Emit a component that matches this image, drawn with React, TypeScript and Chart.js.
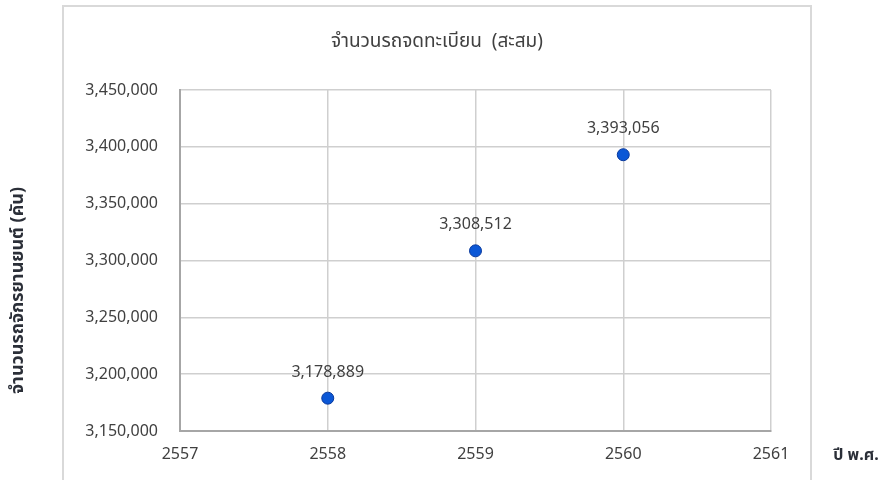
import React, { useEffect, useRef } from 'react';
import { Chart, registerables } from 'chart.js';

Chart.register(...registerables);

// Cumulative registered vehicles by Buddhist-era year
const years = [2558, 2559, 2560];
const registered = [3178889, 3308512, 3393056];

// Axis bounds and steps
const xBounds = [2557, 2561];
const xStep = 1;
const yBounds = [3150000, 3450000];
const yStep = 50000;

const chartTitle = 'จำนวนรถจดทะเบียน  (สะสม)';
const yAxisTitle = 'จำนวนรถจักรยานยนต์ (คัน)';
const xAxisTitle = 'ปี พ.ศ.';

const FONT = '"Noto Sans", "Noto Sans Thai", Tahoma, sans-serif';
const TEXT = '#404040';
const GRID = '#cfcfcf';
const AXIS = '#a6a6a6';

// Outer frame of the chart card
const FRAME = { left: 63, top: 6, width: 748 };

const fmt = (v: number) => v.toLocaleString('en-US');

// Frame, title, value labels and the two axis captions
const decorations = {
  id: 'decorations',
  beforeDraw(chart: any) {
    const { ctx } = chart;
    ctx.save();
    ctx.fillStyle = '#ffffff';
    ctx.fillRect(0, 0, chart.width, chart.height);
    ctx.strokeStyle = '#d9d9d9';
    ctx.lineWidth = 2;
    ctx.strokeRect(FRAME.left, FRAME.top, FRAME.width, chart.height + 20);

    ctx.fillStyle = TEXT;
    ctx.textAlign = 'center';
    ctx.textBaseline = 'middle';
    ctx.font = `19px ${FONT}`;
    ctx.fillText(chartTitle, FRAME.left + FRAME.width / 2, 42);
    ctx.restore();
  },
  afterDatasetsDraw(chart: any) {
    const { ctx } = chart;
    const meta = chart.getDatasetMeta(0);
    ctx.save();
    ctx.font = `16px ${FONT}`;
    ctx.fillStyle = TEXT;
    ctx.textAlign = 'center';
    ctx.textBaseline = 'middle';
    meta.data.forEach((pt: any, i: number) => {
      ctx.fillText(fmt(registered[i]), pt.x, pt.y - 26);
    });
    ctx.restore();
  },
  afterDraw(chart: any) {
    const { ctx, chartArea } = chart;
    ctx.save();
    ctx.fillStyle = '#2b2f38';
    ctx.textAlign = 'center';
    ctx.textBaseline = 'middle';
    ctx.font = `bold 18px ${FONT}`;
    ctx.translate(18, (chartArea.top + chartArea.bottom) / 2 + 30);
    ctx.rotate(-Math.PI / 2);
    ctx.fillText(yAxisTitle, 0, 0);
    ctx.restore();

    ctx.save();
    ctx.fillStyle = '#2b2f38';
    ctx.textAlign = 'center';
    ctx.textBaseline = 'middle';
    ctx.font = `bold 16px ${FONT}`;
    ctx.fillText(xAxisTitle, chartArea.right + 85, chartArea.bottom + 24);
    ctx.restore();
  },
};

export default function App() {
  const canvasRef = useRef<HTMLCanvasElement | null>(null);

  useEffect(() => {
    if (!canvasRef.current) return;
    const chart = new Chart(canvasRef.current, {
      type: 'scatter',
      data: {
        datasets: [
          {
            label: chartTitle,
            data: years.map((y, i) => ({ x: y, y: registered[i] })),
            backgroundColor: '#0b57d6',
            borderColor: '#0a3a9e',
            borderWidth: 1,
            pointRadius: 6,
          },
        ],
      },
      options: {
        responsive: false,
        animation: false,
        layout: { padding: { left: 0, right: 119, top: 90, bottom: 0 } },
        plugins: {
          legend: { display: false },
          tooltip: { enabled: false },
          title: { display: false },
        },
        scales: {
          x: {
            type: 'linear',
            min: xBounds[0],
            max: xBounds[1],
            afterFit: (s: any) => {
              s.height = 49;
            },
            ticks: {
              stepSize: xStep,
              padding: 14,
              color: TEXT,
              font: { family: FONT, size: 16 },
              callback: (v: any) => String(v),
            },
            grid: { color: GRID, lineWidth: 1.5, drawTicks: false },
            border: { color: AXIS, width: 2 },
          },
          y: {
            type: 'linear',
            min: yBounds[0],
            max: yBounds[1],
            afterFit: (s: any) => {
              s.width = 180;
            },
            ticks: {
              stepSize: yStep,
              padding: 22,
              color: TEXT,
              font: { family: FONT, size: 16 },
              callback: (v: any) => fmt(Number(v)),
            },
            grid: { color: GRID, lineWidth: 1.5, drawTicks: false },
            border: { color: AXIS, width: 2 },
          },
        },
      },
      plugins: [decorations],
    });
    return () => chart.destroy();
  }, []);

  return (
    <canvas
      ref={canvasRef}
      width={890}
      height={480}
      style={{ position: 'absolute', left: 0, top: 0, width: 890, height: 480 }}
    />
  );
}
